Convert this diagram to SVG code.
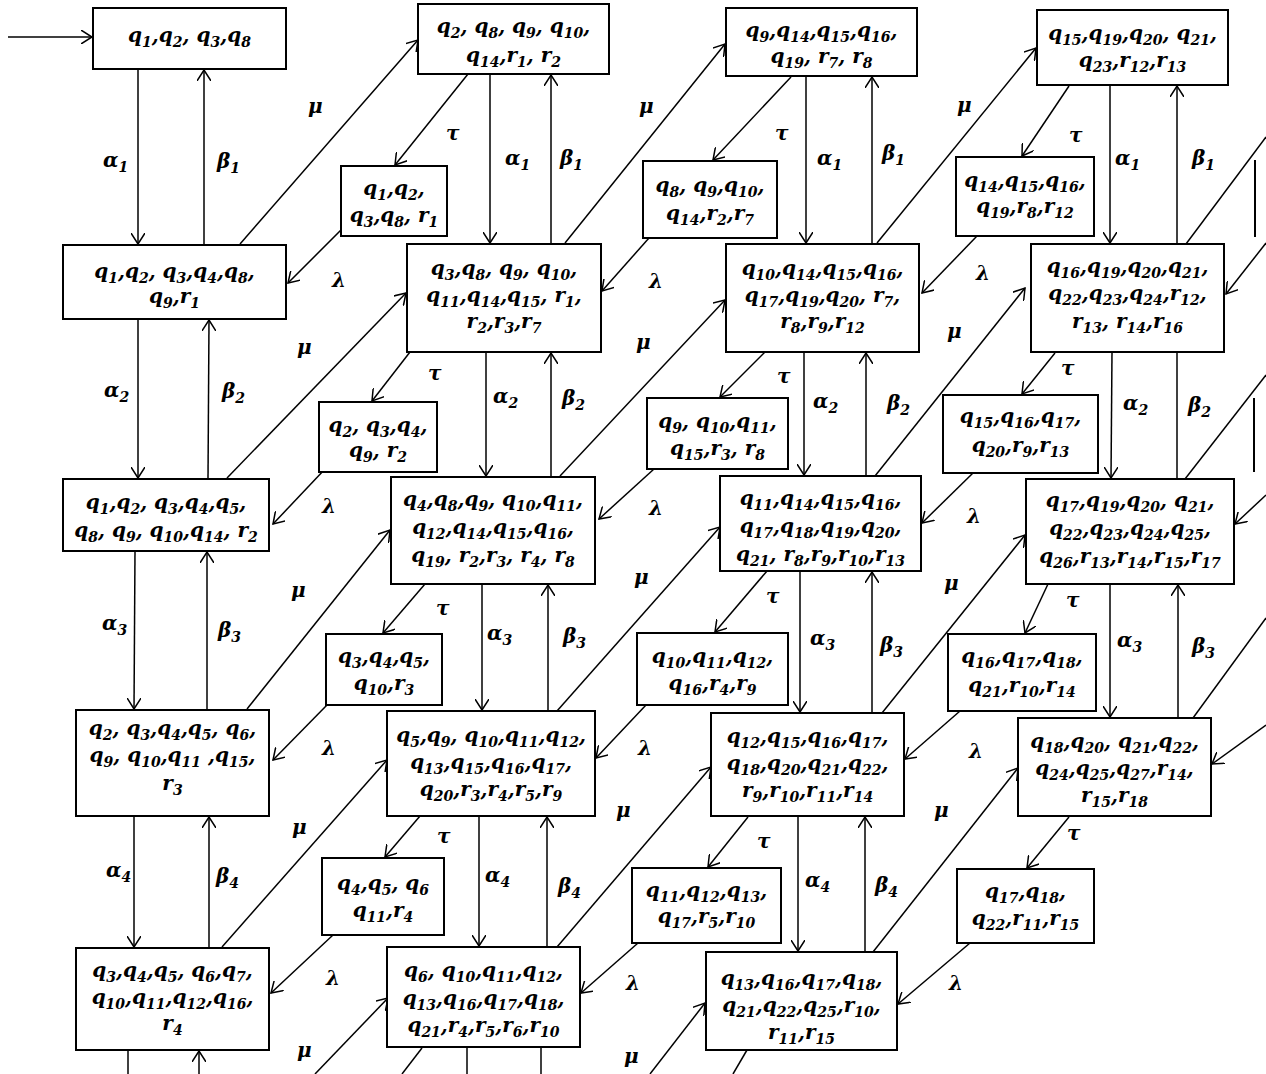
<svg xmlns="http://www.w3.org/2000/svg" width="1266" height="1074" viewBox="0 0 1266 1074">
<style>
.b{fill:#fff;stroke:#000;stroke-width:2}
.t{font-family:"DejaVu Serif",serif;font-weight:bold;font-style:italic;font-size:20px;text-anchor:middle;fill:#000}
.l{font-family:"DejaVu Serif",serif;font-weight:bold;font-style:italic;font-size:20px;fill:#000}
.s{font-size:14px;baseline-shift:-5px}
.c line{stroke:#000;stroke-width:1.5}
.c .a{marker-end:url(#ah)}
</style>
<defs>
<marker id="ah" viewBox="0 0 12 14" refX="11" refY="7" markerWidth="12" markerHeight="14" markerUnits="userSpaceOnUse" orient="auto">
<path d="M0,0 L11,7 L0,14" fill="none" stroke="#000" stroke-width="1.5"/>
</marker>
</defs>
<rect width="1266" height="1074" fill="#fff"/>
<g id="connectors" class="c">
<line class="a" x1="8" y1="37" x2="92" y2="37"/>
<line class="a" x1="138" y1="70" x2="138" y2="244"/>
<line class="a" x1="204" y1="245" x2="204" y2="70"/>
<line class="a" x1="138" y1="319" x2="138" y2="478"/>
<line class="a" x1="208" y1="479" x2="209" y2="320"/>
<line class="a" x1="135" y1="551" x2="134" y2="709"/>
<line class="a" x1="207" y1="710" x2="207" y2="552"/>
<line class="a" x1="134" y1="816" x2="134" y2="947"/>
<line class="a" x1="209" y1="948" x2="209" y2="817"/>
<line x1="128" y1="1050" x2="128" y2="1074"/>
<line class="a" x1="199" y1="1074" x2="199" y2="1051"/>
<line class="a" x1="490" y1="74" x2="490" y2="243"/>
<line class="a" x1="551" y1="244" x2="551" y2="75"/>
<line class="a" x1="486" y1="352" x2="486" y2="476"/>
<line class="a" x1="551" y1="477" x2="551" y2="353"/>
<line class="a" x1="482" y1="584" x2="482" y2="710"/>
<line class="a" x1="548" y1="711" x2="548" y2="585"/>
<line class="a" x1="479" y1="816" x2="479" y2="946"/>
<line class="a" x1="547" y1="947" x2="547" y2="817"/>
<line x1="467" y1="1048" x2="467" y2="1074"/>
<line x1="541" y1="1048" x2="541" y2="1074"/>
<line class="a" x1="806" y1="76" x2="806" y2="243"/>
<line class="a" x1="872" y1="244" x2="872" y2="77"/>
<line class="a" x1="804" y1="352" x2="804" y2="475"/>
<line class="a" x1="866" y1="476" x2="866" y2="353"/>
<line class="a" x1="800" y1="571" x2="800" y2="712"/>
<line class="a" x1="872" y1="713" x2="872" y2="572"/>
<line class="a" x1="798" y1="816" x2="798" y2="951"/>
<line class="a" x1="865" y1="952" x2="865" y2="817"/>
<line class="a" x1="1110" y1="86" x2="1110" y2="243"/>
<line class="a" x1="1177" y1="244" x2="1177" y2="86"/>
<line class="a" x1="1112" y1="352" x2="1111" y2="478"/>
<line x1="1177" y1="479" x2="1177" y2="352"/>
<line class="a" x1="1110" y1="584" x2="1110" y2="717"/>
<line class="a" x1="1178" y1="718" x2="1178" y2="585"/>
<line class="a" x1="468" y1="74" x2="395" y2="165"/>
<line class="a" x1="410" y1="352" x2="372" y2="401"/>
<line class="a" x1="425" y1="584" x2="383" y2="633"/>
<line class="a" x1="420" y1="816" x2="385" y2="857"/>
<line x1="422" y1="1048" x2="402" y2="1074"/>
<line class="a" x1="791" y1="77" x2="713" y2="160"/>
<line class="a" x1="765" y1="352" x2="720" y2="397"/>
<line class="a" x1="767" y1="571" x2="715" y2="632"/>
<line class="a" x1="748" y1="817" x2="708" y2="867"/>
<line x1="747" y1="1050" x2="733" y2="1074"/>
<line class="a" x1="1069" y1="86" x2="1022" y2="156"/>
<line class="a" x1="1055" y1="353" x2="1022" y2="394"/>
<line class="a" x1="1048" y1="584" x2="1025" y2="633"/>
<line class="a" x1="1069" y1="817" x2="1027" y2="868"/>
<line class="a" x1="341" y1="230" x2="288" y2="283"/>
<line class="a" x1="325" y1="469" x2="273" y2="524"/>
<line class="a" x1="327" y1="705" x2="273" y2="760"/>
<line class="a" x1="333" y1="935" x2="271" y2="993"/>
<line class="a" x1="649" y1="238" x2="602" y2="291"/>
<line class="a" x1="654" y1="469" x2="599" y2="519"/>
<line class="a" x1="646" y1="705" x2="596" y2="758"/>
<line class="a" x1="638" y1="943" x2="581" y2="993"/>
<line class="a" x1="977" y1="236" x2="922" y2="293"/>
<line class="a" x1="973" y1="473" x2="922" y2="523"/>
<line class="a" x1="960" y1="711" x2="905" y2="759"/>
<line class="a" x1="970" y1="943" x2="898" y2="1004"/>
<line class="a" x1="240" y1="244" x2="418" y2="40"/>
<line class="a" x1="227" y1="478" x2="406" y2="293"/>
<line class="a" x1="247" y1="709" x2="390" y2="530"/>
<line class="a" x1="222" y1="947" x2="387" y2="760"/>
<line class="a" x1="315" y1="1074" x2="388" y2="998"/>
<line class="a" x1="565" y1="243" x2="725" y2="44"/>
<line class="a" x1="560" y1="476" x2="725" y2="300"/>
<line class="a" x1="557" y1="711" x2="720" y2="527"/>
<line class="a" x1="557" y1="947" x2="711" y2="767"/>
<line class="a" x1="650" y1="1074" x2="705" y2="1003"/>
<line class="a" x1="877" y1="243" x2="1036" y2="48"/>
<line class="a" x1="875" y1="476" x2="1025" y2="288"/>
<line class="a" x1="882" y1="713" x2="1025" y2="535"/>
<line class="a" x1="873" y1="952" x2="1018" y2="768"/>
<line x1="1186" y1="244" x2="1266" y2="137"/>
<line x1="1185" y1="479" x2="1266" y2="375"/>
<line x1="1193" y1="718" x2="1266" y2="618"/>
<line class="a" x1="1266" y1="243" x2="1226" y2="294"/>
<line class="a" x1="1266" y1="495" x2="1235" y2="524"/>
<line class="a" x1="1266" y1="725" x2="1212" y2="764"/>
<line x1="1255" y1="160" x2="1255" y2="237" style="stroke-width:2"/>
<line x1="1254" y1="398" x2="1254" y2="472" style="stroke-width:2"/>
</g>
<g id="labels">
<text class="l" x="103" y="167">α<tspan class="s">1</tspan></text>
<text class="l" x="217" y="168">β<tspan class="s">1</tspan></text>
<text class="l" x="104" y="397">α<tspan class="s">2</tspan></text>
<text class="l" x="222" y="398">β<tspan class="s">2</tspan></text>
<text class="l" x="102" y="630">α<tspan class="s">3</tspan></text>
<text class="l" x="218" y="637">β<tspan class="s">3</tspan></text>
<text class="l" x="106" y="877">α<tspan class="s">4</tspan></text>
<text class="l" x="216" y="883">β<tspan class="s">4</tspan></text>
<text class="l" x="308" y="113">μ</text>
<text class="l" x="446" y="140">τ</text>
<text class="l" x="505" y="165">α<tspan class="s">1</tspan></text>
<text class="l" x="560" y="165">β<tspan class="s">1</tspan></text>
<text class="l" x="332" y="287">λ</text>
<text class="l" x="297" y="354">μ</text>
<text class="l" x="428" y="380">τ</text>
<text class="l" x="493" y="403">α<tspan class="s">2</tspan></text>
<text class="l" x="562" y="405">β<tspan class="s">2</tspan></text>
<text class="l" x="322" y="513">λ</text>
<text class="l" x="291" y="597">μ</text>
<text class="l" x="436" y="615">τ</text>
<text class="l" x="487" y="640">α<tspan class="s">3</tspan></text>
<text class="l" x="563" y="643">β<tspan class="s">3</tspan></text>
<text class="l" x="322" y="755">λ</text>
<text class="l" x="292" y="834">μ</text>
<text class="l" x="437" y="843">τ</text>
<text class="l" x="485" y="882">α<tspan class="s">4</tspan></text>
<text class="l" x="558" y="893">β<tspan class="s">4</tspan></text>
<text class="l" x="326" y="985">λ</text>
<text class="l" x="297" y="1057">μ</text>
<text class="l" x="639" y="113">μ</text>
<text class="l" x="775" y="140">τ</text>
<text class="l" x="817" y="165">α<tspan class="s">1</tspan></text>
<text class="l" x="882" y="160">β<tspan class="s">1</tspan></text>
<text class="l" x="649" y="288">λ</text>
<text class="l" x="636" y="349">μ</text>
<text class="l" x="777" y="383">τ</text>
<text class="l" x="813" y="408">α<tspan class="s">2</tspan></text>
<text class="l" x="887" y="410">β<tspan class="s">2</tspan></text>
<text class="l" x="649" y="515">λ</text>
<text class="l" x="634" y="584">μ</text>
<text class="l" x="766" y="603">τ</text>
<text class="l" x="810" y="645">α<tspan class="s">3</tspan></text>
<text class="l" x="880" y="652">β<tspan class="s">3</tspan></text>
<text class="l" x="638" y="755">λ</text>
<text class="l" x="616" y="817">μ</text>
<text class="l" x="757" y="848">τ</text>
<text class="l" x="805" y="887">α<tspan class="s">4</tspan></text>
<text class="l" x="875" y="892">β<tspan class="s">4</tspan></text>
<text class="l" x="626" y="990">λ</text>
<text class="l" x="624" y="1063">μ</text>
<text class="l" x="957" y="112">μ</text>
<text class="l" x="1069" y="142">τ</text>
<text class="l" x="1115" y="165">α<tspan class="s">1</tspan></text>
<text class="l" x="1192" y="165">β<tspan class="s">1</tspan></text>
<text class="l" x="976" y="280">λ</text>
<text class="l" x="947" y="338">μ</text>
<text class="l" x="1061" y="375">τ</text>
<text class="l" x="1123" y="410">α<tspan class="s">2</tspan></text>
<text class="l" x="1188" y="412">β<tspan class="s">2</tspan></text>
<text class="l" x="967" y="523">λ</text>
<text class="l" x="944" y="590">μ</text>
<text class="l" x="1066" y="607">τ</text>
<text class="l" x="1117" y="647">α<tspan class="s">3</tspan></text>
<text class="l" x="1192" y="653">β<tspan class="s">3</tspan></text>
<text class="l" x="969" y="758">λ</text>
<text class="l" x="934" y="817">μ</text>
<text class="l" x="1067" y="840">τ</text>
<text class="l" x="949" y="990">λ</text>
</g>
<g id="A0"><rect class="b" x="93" y="8" width="193" height="61"/>
<text class="t" x="189.5" y="42">q<tspan class="s">1</tspan>,q<tspan class="s">2</tspan>, q<tspan class="s">3</tspan>,q<tspan class="s">8</tspan></text></g>
<g id="A1"><rect class="b" x="63" y="245" width="223" height="74"/>
<text class="t" x="174.5" y="278">q<tspan class="s">1</tspan>,q<tspan class="s">2</tspan>, q<tspan class="s">3</tspan>,q<tspan class="s">4</tspan>,q<tspan class="s">8</tspan>,</text>
<text class="t" x="174.5" y="303">q<tspan class="s">9</tspan>,r<tspan class="s">1</tspan></text></g>
<g id="A2"><rect class="b" x="63" y="479" width="206" height="72"/>
<text class="t" x="166" y="509">q<tspan class="s">1</tspan>,q<tspan class="s">2</tspan>, q<tspan class="s">3</tspan>,q<tspan class="s">4</tspan>,q<tspan class="s">5</tspan>,</text>
<text class="t" x="166" y="537">q<tspan class="s">8</tspan>, q<tspan class="s">9</tspan>, q<tspan class="s">10</tspan>,q<tspan class="s">14</tspan>, r<tspan class="s">2</tspan></text></g>
<g id="A3"><rect class="b" x="76" y="710" width="193" height="106"/>
<text class="t" x="172.5" y="735">q<tspan class="s">2</tspan>, q<tspan class="s">3</tspan>,q<tspan class="s">4</tspan>,q<tspan class="s">5</tspan>, q<tspan class="s">6</tspan>,</text>
<text class="t" x="172.5" y="762">q<tspan class="s">9</tspan>, q<tspan class="s">10</tspan>,q<tspan class="s">11</tspan> ,q<tspan class="s">15</tspan>,</text>
<text class="t" x="172.5" y="790">r<tspan class="s">3</tspan></text></g>
<g id="A4"><rect class="b" x="76" y="948" width="193" height="102"/>
<text class="t" x="172.5" y="977">q<tspan class="s">3</tspan>,q<tspan class="s">4</tspan>,q<tspan class="s">5</tspan>, q<tspan class="s">6</tspan>,q<tspan class="s">7</tspan>,</text>
<text class="t" x="172.5" y="1004">q<tspan class="s">10</tspan>,q<tspan class="s">11</tspan>,q<tspan class="s">12</tspan>,q<tspan class="s">16</tspan>,</text>
<text class="t" x="172.5" y="1030">r<tspan class="s">4</tspan></text></g>
<g id="B0"><rect class="b" x="418" y="4" width="191" height="70"/>
<text class="t" x="513.5" y="33">q<tspan class="s">2</tspan>, q<tspan class="s">8</tspan>, q<tspan class="s">9</tspan>, q<tspan class="s">10</tspan>,</text>
<text class="t" x="513.5" y="62">q<tspan class="s">14</tspan>,r<tspan class="s">1</tspan>, r<tspan class="s">2</tspan></text></g>
<g id="B0s"><rect class="b" x="341" y="166" width="106" height="70"/>
<text class="t" x="394" y="195">q<tspan class="s">1</tspan>,q<tspan class="s">2</tspan>,</text>
<text class="t" x="394" y="222">q<tspan class="s">3</tspan>,q<tspan class="s">8</tspan>, r<tspan class="s">1</tspan></text></g>
<g id="B1"><rect class="b" x="407" y="244" width="194" height="108"/>
<text class="t" x="504" y="275">q<tspan class="s">3</tspan>,q<tspan class="s">8</tspan>, q<tspan class="s">9</tspan>, q<tspan class="s">10</tspan>,</text>
<text class="t" x="504" y="302">q<tspan class="s">11</tspan>,q<tspan class="s">14</tspan>,q<tspan class="s">15</tspan>, r<tspan class="s">1</tspan>,</text>
<text class="t" x="504" y="328">r<tspan class="s">2</tspan>,r<tspan class="s">3</tspan>,r<tspan class="s">7</tspan></text></g>
<g id="B1s"><rect class="b" x="319" y="402" width="118" height="70"/>
<text class="t" x="378" y="432">q<tspan class="s">2</tspan>, q<tspan class="s">3</tspan>,q<tspan class="s">4</tspan>,</text>
<text class="t" x="378" y="457">q<tspan class="s">9</tspan>, r<tspan class="s">2</tspan></text></g>
<g id="B2"><rect class="b" x="391" y="477" width="204" height="107"/>
<text class="t" x="493" y="506">q<tspan class="s">4</tspan>,q<tspan class="s">8</tspan>,q<tspan class="s">9</tspan>, q<tspan class="s">10</tspan>,q<tspan class="s">11</tspan>,</text>
<text class="t" x="493" y="534">q<tspan class="s">12</tspan>,q<tspan class="s">14</tspan>,q<tspan class="s">15</tspan>,q<tspan class="s">16</tspan>,</text>
<text class="t" x="493" y="562">q<tspan class="s">19</tspan>, r<tspan class="s">2</tspan>,r<tspan class="s">3</tspan>, r<tspan class="s">4</tspan>, r<tspan class="s">8</tspan></text></g>
<g id="B2s"><rect class="b" x="326" y="634" width="116" height="71"/>
<text class="t" x="384" y="663">q<tspan class="s">3</tspan>,q<tspan class="s">4</tspan>,q<tspan class="s">5</tspan>,</text>
<text class="t" x="384" y="690">q<tspan class="s">10</tspan>,r<tspan class="s">3</tspan></text></g>
<g id="B3"><rect class="b" x="387" y="711" width="208" height="105"/>
<text class="t" x="491" y="742">q<tspan class="s">5</tspan>,q<tspan class="s">9</tspan>, q<tspan class="s">10</tspan>,q<tspan class="s">11</tspan>,q<tspan class="s">12</tspan>,</text>
<text class="t" x="491" y="769">q<tspan class="s">13</tspan>,q<tspan class="s">15</tspan>,q<tspan class="s">16</tspan>,q<tspan class="s">17</tspan>,</text>
<text class="t" x="491" y="796">q<tspan class="s">20</tspan>,r<tspan class="s">3</tspan>,r<tspan class="s">4</tspan>,r<tspan class="s">5</tspan>,r<tspan class="s">9</tspan></text></g>
<g id="B3s"><rect class="b" x="322" y="858" width="122" height="77"/>
<text class="t" x="383" y="890">q<tspan class="s">4</tspan>,q<tspan class="s">5</tspan>, q<tspan class="s">6</tspan></text>
<text class="t" x="383" y="917">q<tspan class="s">11</tspan>,r<tspan class="s">4</tspan></text></g>
<g id="B4"><rect class="b" x="387" y="947" width="193" height="100"/>
<text class="t" x="483.5" y="977">q<tspan class="s">6</tspan>, q<tspan class="s">10</tspan>,q<tspan class="s">11</tspan>,q<tspan class="s">12</tspan>,</text>
<text class="t" x="483.5" y="1005">q<tspan class="s">13</tspan>,q<tspan class="s">16</tspan>,q<tspan class="s">17</tspan>,q<tspan class="s">18</tspan>,</text>
<text class="t" x="483.5" y="1032">q<tspan class="s">21</tspan>,r<tspan class="s">4</tspan>,r<tspan class="s">5</tspan>,r<tspan class="s">6</tspan>,r<tspan class="s">10</tspan></text></g>
<g id="C0"><rect class="b" x="726" y="8" width="191" height="68"/>
<text class="t" x="821.5" y="37">q<tspan class="s">9</tspan>,q<tspan class="s">14</tspan>,q<tspan class="s">15</tspan>,q<tspan class="s">16</tspan>,</text>
<text class="t" x="821.5" y="63">q<tspan class="s">19</tspan>, r<tspan class="s">7</tspan>, r<tspan class="s">8</tspan></text></g>
<g id="C0s"><rect class="b" x="643" y="161" width="134" height="77"/>
<text class="t" x="710" y="192">q<tspan class="s">8</tspan>, q<tspan class="s">9</tspan>,q<tspan class="s">10</tspan>,</text>
<text class="t" x="710" y="220">q<tspan class="s">14</tspan>,r<tspan class="s">2</tspan>,r<tspan class="s">7</tspan></text></g>
<g id="C1"><rect class="b" x="726" y="244" width="193" height="108"/>
<text class="t" x="822.5" y="275">q<tspan class="s">10</tspan>,q<tspan class="s">14</tspan>,q<tspan class="s">15</tspan>,q<tspan class="s">16</tspan>,</text>
<text class="t" x="822.5" y="302">q<tspan class="s">17</tspan>,q<tspan class="s">19</tspan>,q<tspan class="s">20</tspan>, r<tspan class="s">7</tspan>,</text>
<text class="t" x="822.5" y="328">r<tspan class="s">8</tspan>,r<tspan class="s">9</tspan>,r<tspan class="s">12</tspan></text></g>
<g id="C1s"><rect class="b" x="647" y="398" width="141" height="71"/>
<text class="t" x="717.5" y="428">q<tspan class="s">9</tspan>, q<tspan class="s">10</tspan>,q<tspan class="s">11</tspan>,</text>
<text class="t" x="717.5" y="455">q<tspan class="s">15</tspan>,r<tspan class="s">3</tspan>, r<tspan class="s">8</tspan></text></g>
<g id="C2"><rect class="b" x="720" y="476" width="201" height="95"/>
<text class="t" x="820.5" y="505">q<tspan class="s">11</tspan>,q<tspan class="s">14</tspan>,q<tspan class="s">15</tspan>,q<tspan class="s">16</tspan>,</text>
<text class="t" x="820.5" y="533">q<tspan class="s">17</tspan>,q<tspan class="s">18</tspan>,q<tspan class="s">19</tspan>,q<tspan class="s">20</tspan>,</text>
<text class="t" x="820.5" y="561">q<tspan class="s">21</tspan>, r<tspan class="s">8</tspan>,r<tspan class="s">9</tspan>,r<tspan class="s">10</tspan>,r<tspan class="s">13</tspan></text></g>
<g id="C2s"><rect class="b" x="637" y="633" width="151" height="72"/>
<text class="t" x="712.5" y="663">q<tspan class="s">10</tspan>,q<tspan class="s">11</tspan>,q<tspan class="s">12</tspan>,</text>
<text class="t" x="712.5" y="690">q<tspan class="s">16</tspan>,r<tspan class="s">4</tspan>,r<tspan class="s">9</tspan></text></g>
<g id="C3"><rect class="b" x="711" y="713" width="193" height="103"/>
<text class="t" x="807.5" y="743">q<tspan class="s">12</tspan>,q<tspan class="s">15</tspan>,q<tspan class="s">16</tspan>,q<tspan class="s">17</tspan>,</text>
<text class="t" x="807.5" y="770">q<tspan class="s">18</tspan>,q<tspan class="s">20</tspan>,q<tspan class="s">21</tspan>,q<tspan class="s">22</tspan>,</text>
<text class="t" x="807.5" y="797">r<tspan class="s">9</tspan>,r<tspan class="s">10</tspan>,r<tspan class="s">11</tspan>,r<tspan class="s">14</tspan></text></g>
<g id="C3s"><rect class="b" x="632" y="868" width="149" height="75"/>
<text class="t" x="706.5" y="897">q<tspan class="s">11</tspan>,q<tspan class="s">12</tspan>,q<tspan class="s">13</tspan>,</text>
<text class="t" x="706.5" y="923">q<tspan class="s">17</tspan>,r<tspan class="s">5</tspan>,r<tspan class="s">10</tspan></text></g>
<g id="C4"><rect class="b" x="706" y="952" width="191" height="98"/>
<text class="t" x="801.5" y="985">q<tspan class="s">13</tspan>,q<tspan class="s">16</tspan>,q<tspan class="s">17</tspan>,q<tspan class="s">18</tspan>,</text>
<text class="t" x="801.5" y="1012">q<tspan class="s">21</tspan>,q<tspan class="s">22</tspan>,q<tspan class="s">25</tspan>,r<tspan class="s">10</tspan>,</text>
<text class="t" x="801.5" y="1039">r<tspan class="s">11</tspan>,r<tspan class="s">15</tspan></text></g>
<g id="D0"><rect class="b" x="1037" y="10" width="191" height="75"/>
<text class="t" x="1132.5" y="40">q<tspan class="s">15</tspan>,q<tspan class="s">19</tspan>,q<tspan class="s">20</tspan>, q<tspan class="s">21</tspan>,</text>
<text class="t" x="1132.5" y="67">q<tspan class="s">23</tspan>,r<tspan class="s">12</tspan>,r<tspan class="s">13</tspan></text></g>
<g id="D0s"><rect class="b" x="956" y="157" width="138" height="79"/>
<text class="t" x="1025" y="187">q<tspan class="s">14</tspan>,q<tspan class="s">15</tspan>,q<tspan class="s">16</tspan>,</text>
<text class="t" x="1025" y="213">q<tspan class="s">19</tspan>,r<tspan class="s">8</tspan>,r<tspan class="s">12</tspan></text></g>
<g id="D1"><rect class="b" x="1031" y="244" width="193" height="108"/>
<text class="t" x="1127.5" y="273">q<tspan class="s">16</tspan>,q<tspan class="s">19</tspan>,q<tspan class="s">20</tspan>,q<tspan class="s">21</tspan>,</text>
<text class="t" x="1127.5" y="300">q<tspan class="s">22</tspan>,q<tspan class="s">23</tspan>,q<tspan class="s">24</tspan>,r<tspan class="s">12</tspan>,</text>
<text class="t" x="1127.5" y="328">r<tspan class="s">13</tspan>, r<tspan class="s">14</tspan>,r<tspan class="s">16</tspan></text></g>
<g id="D1s"><rect class="b" x="943" y="395" width="155" height="78"/>
<text class="t" x="1020.5" y="423">q<tspan class="s">15</tspan>,q<tspan class="s">16</tspan>,q<tspan class="s">17</tspan>,</text>
<text class="t" x="1020.5" y="452">q<tspan class="s">20</tspan>,r<tspan class="s">9</tspan>,r<tspan class="s">13</tspan></text></g>
<g id="D2"><rect class="b" x="1026" y="479" width="208" height="105"/>
<text class="t" x="1130" y="507">q<tspan class="s">17</tspan>,q<tspan class="s">19</tspan>,q<tspan class="s">20</tspan>, q<tspan class="s">21</tspan>,</text>
<text class="t" x="1130" y="535">q<tspan class="s">22</tspan>,q<tspan class="s">23</tspan>,q<tspan class="s">24</tspan>,q<tspan class="s">25</tspan>,</text>
<text class="t" x="1130" y="563">q<tspan class="s">26</tspan>,r<tspan class="s">13</tspan>,r<tspan class="s">14</tspan>,r<tspan class="s">15</tspan>,r<tspan class="s">17</tspan></text></g>
<g id="D2s"><rect class="b" x="948" y="634" width="148" height="77"/>
<text class="t" x="1022" y="663">q<tspan class="s">16</tspan>,q<tspan class="s">17</tspan>,q<tspan class="s">18</tspan>,</text>
<text class="t" x="1022" y="692">q<tspan class="s">21</tspan>,r<tspan class="s">10</tspan>,r<tspan class="s">14</tspan></text></g>
<g id="D3"><rect class="b" x="1018" y="718" width="193" height="98"/>
<text class="t" x="1114.5" y="748">q<tspan class="s">18</tspan>,q<tspan class="s">20</tspan>, q<tspan class="s">21</tspan>,q<tspan class="s">22</tspan>,</text>
<text class="t" x="1114.5" y="775">q<tspan class="s">24</tspan>,q<tspan class="s">25</tspan>,q<tspan class="s">27</tspan>,r<tspan class="s">14</tspan>,</text>
<text class="t" x="1114.5" y="802">r<tspan class="s">15</tspan>,r<tspan class="s">18</tspan></text></g>
<g id="D3s"><rect class="b" x="957" y="869" width="137" height="74"/>
<text class="t" x="1025.5" y="898">q<tspan class="s">17</tspan>,q<tspan class="s">18</tspan>,</text>
<text class="t" x="1025.5" y="925">q<tspan class="s">22</tspan>,r<tspan class="s">11</tspan>,r<tspan class="s">15</tspan></text></g>
</svg>
